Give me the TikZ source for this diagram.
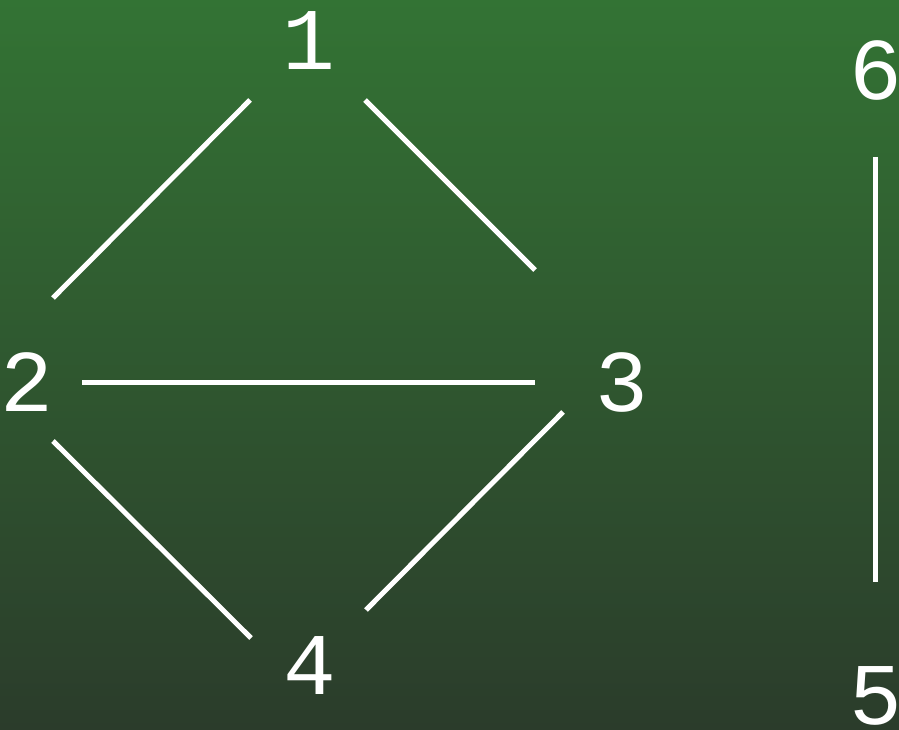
\documentclass[tikz,border=0pt]{standalone}
\usepackage{fontspec}
\setmonofont{Liberation Mono}
\definecolor{bgtop}{RGB}{51,115,52}
\definecolor{bgbot}{RGB}{43,60,43}
\begin{document}
\begin{tikzpicture}[x=1pt,y=1pt,
  vlabel/.style={text=white,inner sep=0pt,font=\ttfamily\fontsize{88}{88}\selectfont},
  edge/.style={draw=white,line width=5pt}]
\shade[top color=bgtop,bottom color=bgbot] (0,0) rectangle (899,729);
\useasboundingbox (0,0) rectangle (899,729);
\node[vlabel] (n1) at (309,688) {1};
\node[vlabel] (n2) at (27,347) {2};
\node[vlabel] (n3) at (622,347) {3};
\node[vlabel] (n4) at (310,63) {4};
\node[vlabel] (n6) at (876,658) {6};
\node[vlabel] (n5) at (876,33) {5};
\draw[edge] ([shift={(-59,-59)}]n1.center) -- ([shift={(26,84)}]n2.center);
\draw[edge] ([shift={(56,-59)}]n1.center) -- ([shift={(-87,112)}]n3.center);
\draw[edge] ([shift={(55,-1)}]n2.center) -- ([shift={(-87,-1)}]n3.center);
\draw[edge] ([shift={(26,-59)}]n2.center) -- ([shift={(-59,28)}]n4.center);
\draw[edge] ([shift={(-59,-30)}]n3.center) -- ([shift={(56,56)}]n4.center);
\draw[edge] ([shift={(-1,-86)}]n6.center) -- ([shift={(-1,114)}]n5.center);
\end{tikzpicture}
\end{document}
